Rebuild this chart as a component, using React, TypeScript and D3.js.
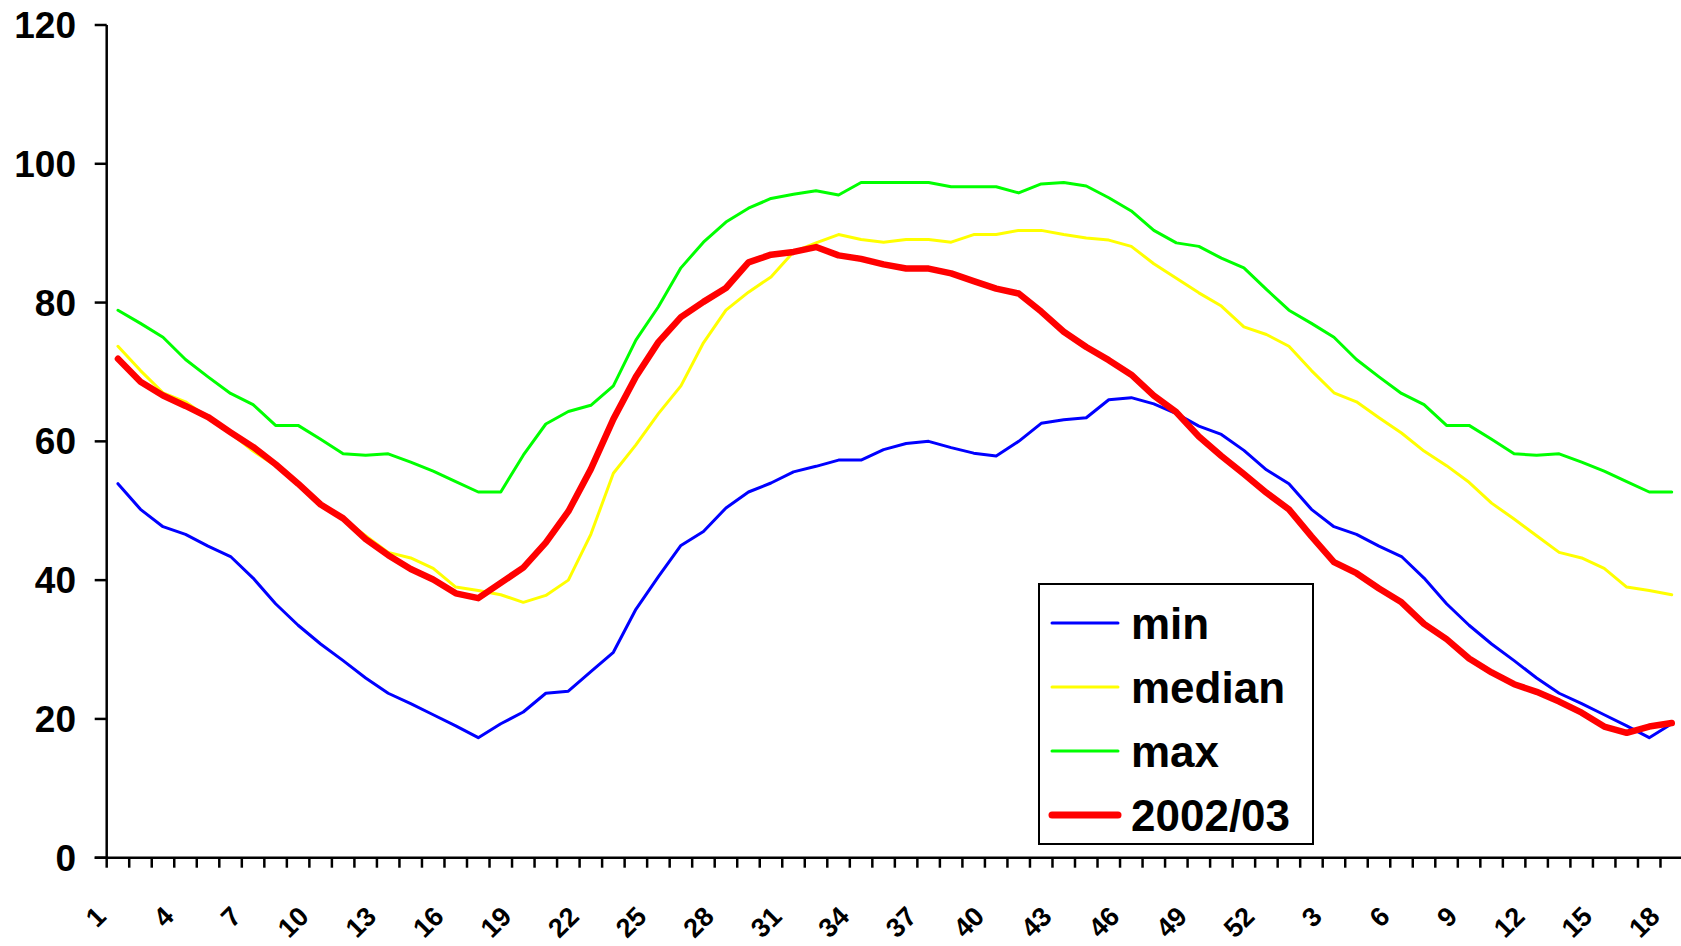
import React, { useEffect, useRef } from 'react';
import * as d3 from 'd3';

// Week numbers on the x axis (season runs week 1 .. 52, then 1 .. 18 of next year)
const weeks = [
  1, 2, 3, 4, 5, 6, 7, 8, 9, 10, 11, 12, 13, 14, 15, 16, 17, 18, 19, 20,
  21, 22, 23, 24, 25, 26, 27, 28, 29, 30, 31, 32, 33, 34, 35, 36, 37, 38, 39, 40,
  41, 42, 43, 44, 45, 46, 47, 48, 49, 50, 51, 52,
  1, 2, 3, 4, 5, 6, 7, 8, 9, 10, 11, 12, 13, 14, 15, 16, 17, 18,
];

const minValues = [
  53.9, 50.2, 47.7, 46.6, 44.9, 43.4, 40.3, 36.6, 33.5, 30.8,
  28.4, 25.9, 23.7, 22.2, 20.6, 19.0, 17.3, 19.3, 21.0, 23.7,
  24.0, 26.8, 29.6, 35.8, 40.5, 45.0, 47.0, 50.4, 52.7, 54.0,
  55.6, 56.4, 57.3, 57.3, 58.8, 59.7, 60.0, 59.1, 58.3, 57.9,
  60.0, 62.6, 63.1, 63.4, 66.0, 66.3, 65.4, 64.0, 62.2, 61.0,
  58.7, 55.9,
  53.9, 50.2, 47.7, 46.6, 44.9, 43.4, 40.3, 36.6, 33.5, 30.8,
  28.4, 25.9, 23.7, 22.2, 20.6, 19.0, 17.3, 19.3,
];

const medianValues = [
  73.7, 70.2, 67.0, 65.7, 63.4, 61.2, 58.6, 56.5, 54.1, 51.1,
  48.8, 46.4, 44.0, 43.2, 41.7, 39.0, 38.5, 37.9, 36.8, 37.8,
  40.0, 46.6, 55.4, 59.5, 64.0, 68.0, 74.2, 78.9, 81.5, 83.7,
  87.3, 88.6, 89.8, 89.1, 88.7, 89.1, 89.1, 88.7, 89.8, 89.8,
  90.4, 90.4, 89.8, 89.3, 89.0, 88.1, 85.6, 83.5, 81.4, 79.5,
  76.5, 75.4,
  73.7, 70.2, 67.0, 65.7, 63.4, 61.2, 58.6, 56.5, 54.1, 51.1,
  48.8, 46.4, 44.0, 43.2, 41.7, 39.0, 38.5, 37.9,
];

const maxValues = [
  78.9, 77.0, 75.0, 71.8, 69.3, 66.9, 65.3, 62.3, 62.3, 60.3,
  58.2, 58.0, 58.2, 57.0, 55.7, 54.2, 52.7, 52.7, 58.0, 62.5,
  64.3, 65.2, 68.0, 74.6, 79.4, 85.0, 88.7, 91.6, 93.6, 95.0,
  95.6, 96.1, 95.5, 97.3, 97.3, 97.3, 97.3, 96.7, 96.7, 96.7,
  95.8, 97.1, 97.3, 96.8, 95.1, 93.2, 90.4, 88.6, 88.1, 86.4,
  85.0, 81.9,
  78.9, 77.0, 75.0, 71.8, 69.3, 66.9, 65.3, 62.3, 62.3, 60.3,
  58.2, 58.0, 58.2, 57.0, 55.7, 54.2, 52.7, 52.7,
];

const season0203 = [
  71.9, 68.6, 66.6, 65.1, 63.5, 61.3, 59.2, 56.7, 53.9, 50.9,
  48.9, 45.9, 43.6, 41.6, 40.1, 38.1, 37.4, 39.6, 41.8, 45.4,
  49.9, 56.0, 63.2, 69.3, 74.3, 77.9, 80.1, 82.1, 85.8, 86.9,
  87.3, 88.0, 86.8, 86.3, 85.5, 84.9, 84.9, 84.2, 83.1, 82.0,
  81.3, 78.7, 75.8, 73.6, 71.7, 69.6, 66.6, 64.2, 60.7, 57.9,
  55.3, 52.6, 50.2, 46.3, 42.6, 41.0, 38.8, 36.8, 33.7, 31.5,
  28.7, 26.7, 25.0, 23.9, 22.5, 20.9, 18.9, 18.0, 18.9, 19.4,
];

const yTicks = [0, 20, 40, 60, 80, 100, 120];

const seriesNames = ['min', 'median', 'max', '2002/03'];
const seriesColors = ['#0000ff', '#ffff00', '#00ff00', '#ff0000'];

const FONT = '"Liberation Sans", Arial, Helvetica, sans-serif';

const App = () => {
  const svgRef = useRef<SVGSVGElement>(null);

  const width = 1681;
  const height = 946;

  useEffect(() => {
    const svg = d3.select(svgRef.current);
    svg.selectAll('*').remove();

    // plot area (the chart runs a little past the right edge of the picture)
    const left = 106.7;
    const right = 1683;
    const top = 25;
    const bottom = 857.7;

    const x = d3
      .scaleBand<number>()
      .domain(d3.range(weeks.length))
      .range([left, right])
      .paddingInner(0)
      .paddingOuter(0);
    const y = d3.scaleLinear().domain([0, 120]).range([bottom, top]);
    const cx = (i: number) => (x(i) as number) + x.bandwidth() / 2;

    const series = [minValues, medianValues, maxValues, season0203];
    const widths = [3, 3, 3, 6.5];

    // lines
    const line = d3
      .line<number>()
      .x((d, i) => cx(i))
      .y((d) => y(d));

    series.forEach((values, s) => {
      svg
        .append('path')
        .datum(values)
        .attr('d', line)
        .attr('fill', 'none')
        .attr('stroke', seriesColors[s])
        .attr('stroke-width', widths[s])
        .attr('stroke-linejoin', 'round')
        .attr('stroke-linecap', 'round');
    });

    // y axis
    const yAxis = svg.append('g');
    yAxis
      .append('line')
      .attr('x1', left)
      .attr('x2', left)
      .attr('y1', y(120))
      .attr('y2', bottom)
      .attr('stroke', '#000')
      .attr('stroke-width', 2.5);
    yTicks.forEach((t) => {
      yAxis
        .append('line')
        .attr('x1', left - 12)
        .attr('x2', left)
        .attr('y1', y(t))
        .attr('y2', y(t))
        .attr('stroke', '#000')
        .attr('stroke-width', 2.5);
      yAxis
        .append('text')
        .attr('x', 76)
        .attr('y', y(t) + 13)
        .attr('text-anchor', 'end')
        .style('font-family', FONT)
        .style('font-weight', 'bold')
        .style('font-size', '37px')
        .style('fill', '#000')
        .text(t);
    });

    // x axis
    const xAxis = svg.append('g');
    xAxis
      .append('line')
      .attr('x1', left - 12)
      .attr('x2', right)
      .attr('y1', bottom)
      .attr('y2', bottom)
      .attr('stroke', '#000')
      .attr('stroke-width', 2.5);
    d3.range(weeks.length + 1).forEach((k) => {
      const tx = left + k * x.bandwidth();
      xAxis
        .append('line')
        .attr('x1', tx)
        .attr('x2', tx)
        .attr('y1', bottom)
        .attr('y2', bottom + 10)
        .attr('stroke', '#000')
        .attr('stroke-width', 2.5);
    });
    weeks.forEach((w, i) => {
      if (i % 3 !== 0) return;
      const lx = (x(i) as number) + 1;
      xAxis
        .append('text')
        .attr('transform', `translate(${lx}, 918) rotate(-45)`)
        .attr('text-anchor', 'end')
        .style('font-family', FONT)
        .style('font-weight', 'bold')
        .style('font-size', '27px')
        .style('fill', '#000')
        .text(w);
    });

    // legend
    const legend = svg.append('g');
    legend
      .append('rect')
      .attr('x', 1039)
      .attr('y', 584)
      .attr('width', 274)
      .attr('height', 260)
      .attr('fill', '#fff')
      .attr('stroke', '#000')
      .attr('stroke-width', 2);
    seriesNames.forEach((name, s) => {
      const ly = 623 + s * 64;
      legend
        .append('line')
        .attr('x1', 1052)
        .attr('x2', 1118)
        .attr('y1', ly)
        .attr('y2', ly)
        .attr('stroke', seriesColors[s])
        .attr('stroke-width', s === 3 ? 7 : 3)
        .attr('stroke-linecap', 'round');
      legend
        .append('text')
        .attr('x', 1131)
        .attr('y', ly + 16)
        .style('font-family', FONT)
        .style('font-weight', 'bold')
        .style('font-size', '44px')
        .style('fill', '#000')
        .text(name);
    });
  }, []);

  return (
    <div style={{ position: 'absolute', left: 0, top: 0, width, height, overflow: 'hidden', background: '#fff' }}>
      <svg ref={svgRef} width={width} height={height} style={{ display: 'block' }}></svg>
    </div>
  );
};

export default App;
